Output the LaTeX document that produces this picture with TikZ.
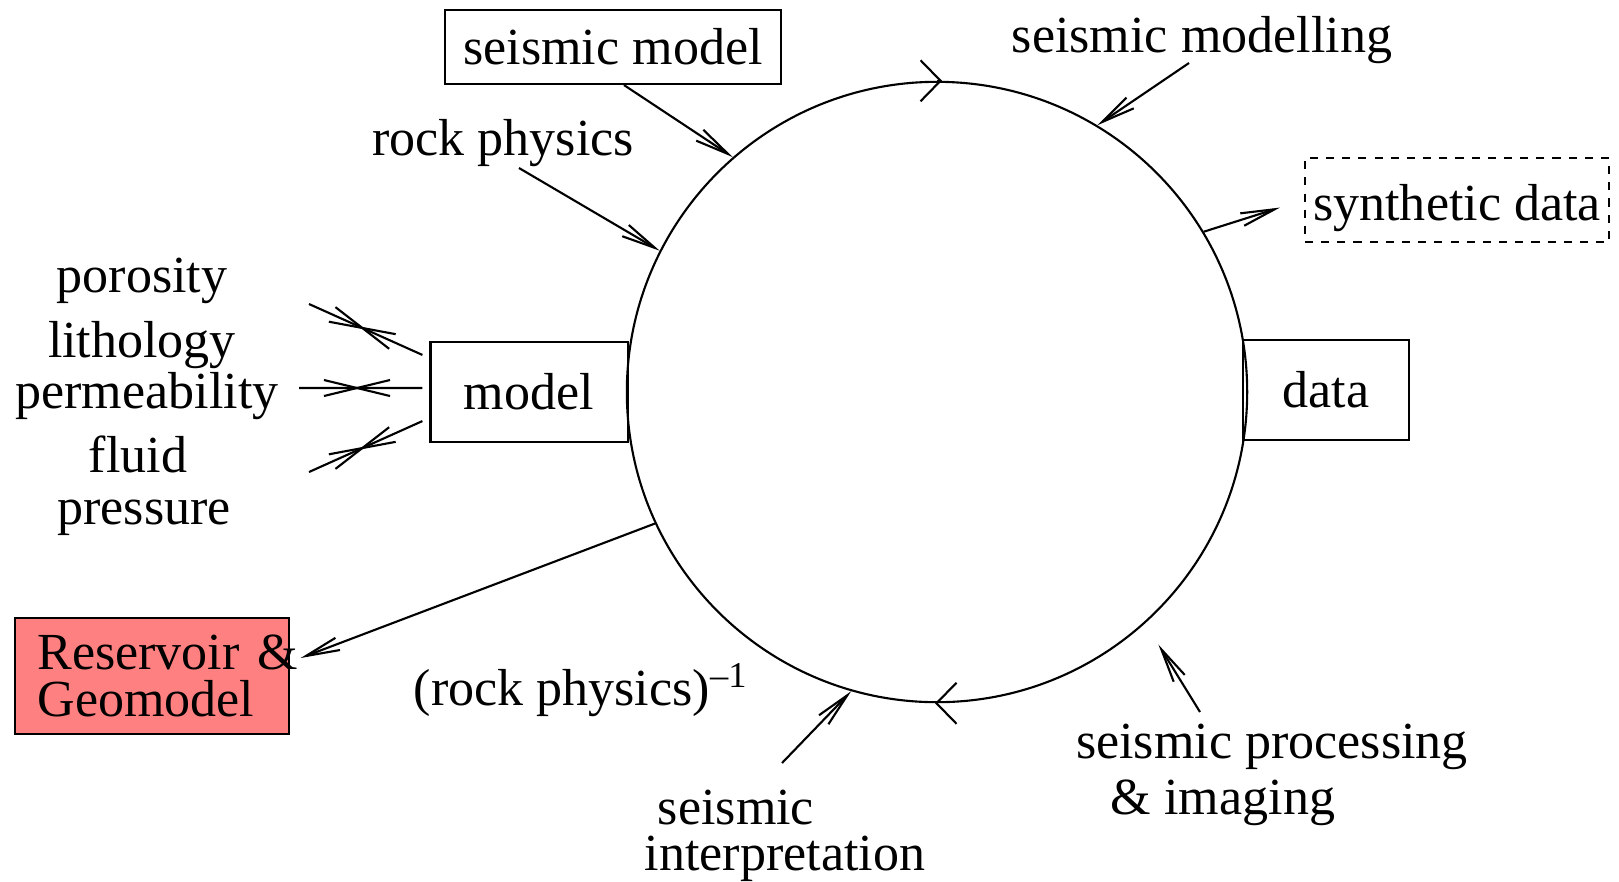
\documentclass[tikz,border=0pt]{standalone}
\usepackage{fontspec}
\setmainfont{Liberation Serif}
\usetikzlibrary{positioning, arrows.meta, decorations.markings}
\definecolor{resred}{HTML}{FF8080}

\begin{document}
\begin{tikzpicture}[
      x=0.01cm, y=-0.01cm,
      every node/.style={font=\fontsize{14.8}{17}\selectfont},
      labelbox/.style={draw, line width=0.6pt, inner sep=0pt},
      link/.style={->, line width=0.6pt},
      xlink/.style={line width=0.6pt, postaction={decorate},
        decoration={markings, mark=at position 0.53 with {
          \draw[line width=0.6pt] (-0.33cm,-0.08cm) -- (0.33cm,0.08cm)
                                  (-0.33cm,0.08cm) -- (0.33cm,-0.08cm);}}},
      cyctip/.style={line width=0.6pt, -{Straight Barb[length=0.2cm, width=0.41cm]}},
      >={Straight Barb[length=0.34cm, width=0.13cm]},
    ]
    \useasboundingbox (0,0) rectangle (1619,881);

    % the cycle
    \node[circle, draw, line width=0.6pt, minimum size=6.2cm, inner sep=0pt] (cyc) at (937,392) {};
    \draw[cyctip] (cyc.north) -- ([xshift=0.05cm]cyc.north);
    \draw[cyctip] (cyc.south) -- ([xshift=-0.02cm]cyc.south);

    % boxes
    \node[labelbox, minimum width=3.36cm, minimum height=0.74cm] (smodel) at (613,47) {seismic model};
    \node[labelbox, dashed, dash pattern=on 2.3pt off 2.3pt, minimum width=3.04cm, minimum height=0.84cm] (synth) at (1457,200)
      {\raisebox{-0.08cm}[\height][\depth]{synthetic data}};
    \node[labelbox, minimum width=1.97cm, minimum height=1cm] (model) at (529,392) {model};
    \node[labelbox, minimum width=1.66cm, minimum height=1cm] (data) at (1326,390) {data};
    \node[labelbox, fill=resred, minimum height=1.16cm, text width=2.29cm, inner xsep=0.22cm, align=left,
          font=\fontsize{14.8}{13.2}\selectfont] (resv) at (152,676) {\mbox{Reservoir \&}\\Geomodel};

    % labels
    \node (smodelling) at (1202,40) {seismic modelling};
    \node (rockphys) at (503,143) {rock physics};
    \node (poro) at (142,281) {porosity};
    \node (litho) at (142,345) {lithology};
    \node (perm) at (147,396) {permeability};
    \node (fluid) at (138,454) {fluid};
    \node (press) at (144,518) {pressure};
    \node (rockinv) at (581,690) {(rock physics)\textsuperscript{–1}};
    \node (sint) at (736,808) {seismic};
    \node (interp) at (785,859) {interpretation};
    \node (sproc) at (1272,747) {seismic processing};
    \node (imag) at (1223,803) {\& imaging};

    % free ends
    \coordinate (modS) at (1189,63);
    \coordinate (rockS) at (519,168);
    \coordinate (intS) at (782,763);
    \coordinate (procS) at (1200,712);
    \coordinate (poroE) at (309,304);
    \coordinate (permE) at (299,388);
    \coordinate (fluidE) at (309,472);

    % connectors
    \draw[link] ([xshift=0.11cm]smodel.south) -- (cyc.131);
    \draw[link] (rockS) -- (cyc.153);
    \draw[link] (modS) -- (cyc.59);
    \draw[link, shorten >=0.25cm] (cyc.31.5) -- (synth.west);
    \draw[link] (cyc.205) -- ([shift={(0.11cm,0.18cm)}]resv.east);
    \draw[link] (intS) -- (cyc.254.5);
    \draw[link, shorten >=0.25cm] (procS) -- (cyc.312);

    \draw[xlink] ([shift={(-0.07cm,-0.14cm)}]model.north west) -- (poroE);
    \draw[xlink] ([shift={(-0.07cm,0.04cm)}]model.west) -- (permE);
    \draw[xlink] ([shift={(-0.07cm,0.22cm)}]model.south west) -- (fluidE);
  \end{tikzpicture}
\end{document}
